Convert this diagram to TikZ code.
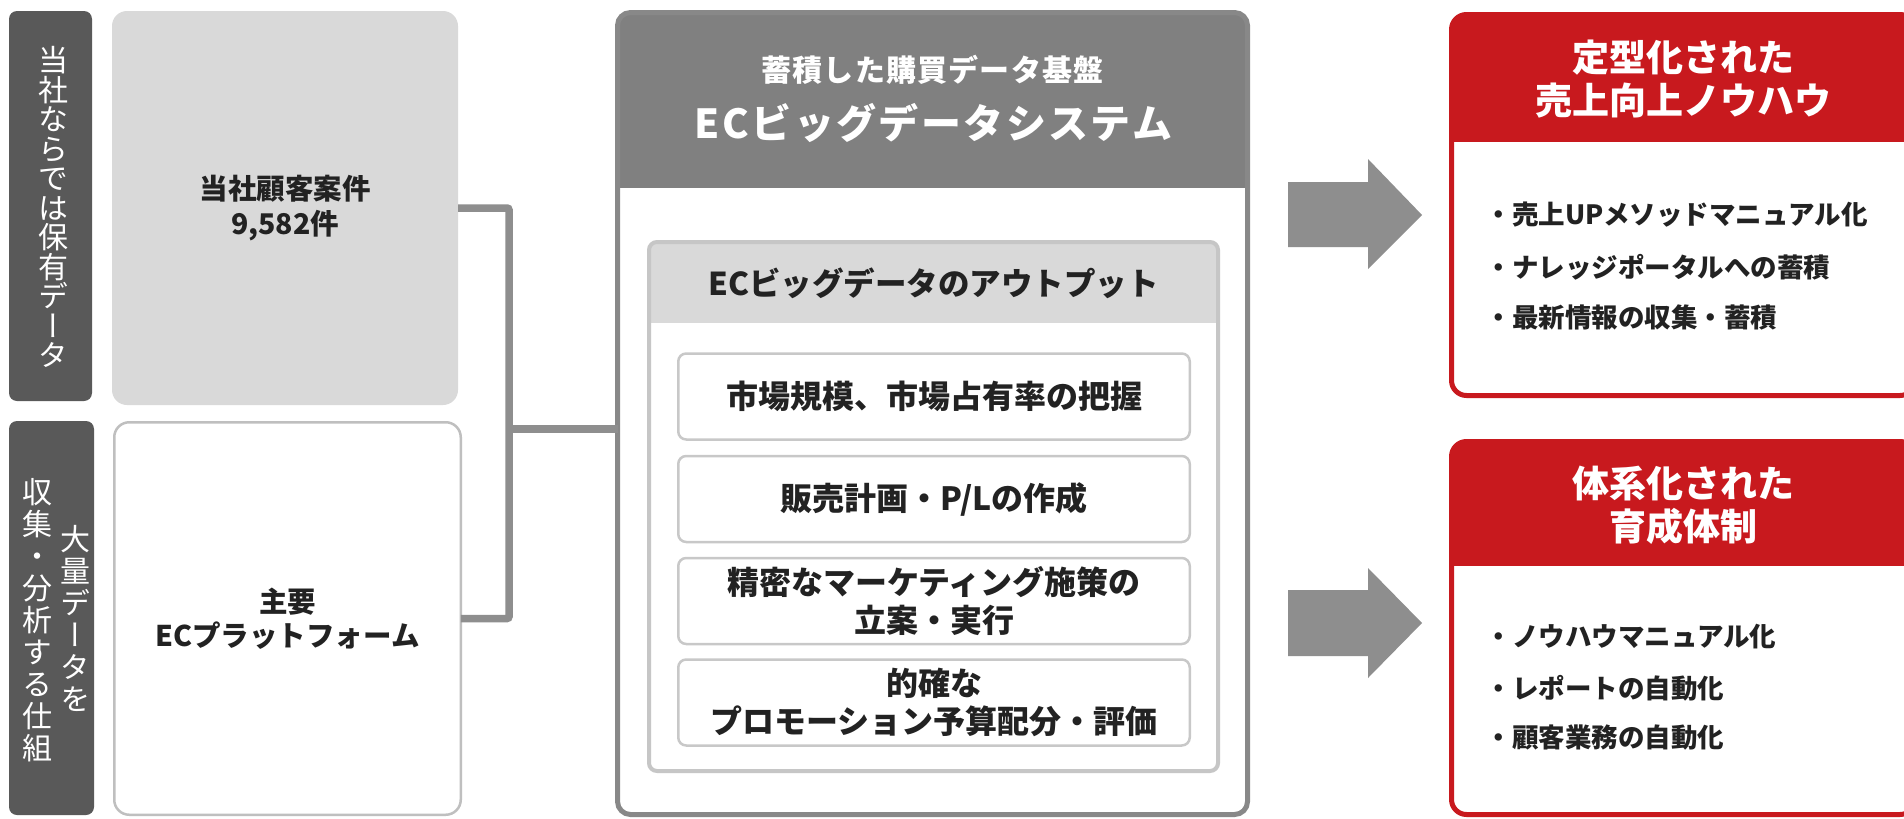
\documentclass[tikz,border=0pt]{standalone}
\usepackage{fontspec}
\setmainfont{Noto Sans CJK JP}
\newfontfamily\jp{Noto Sans CJK JP}
\newfontfamily\jpv{Noto Sans CJK JP}[RawFeature=+vert]
\newfontfamily\jpls{Noto Sans CJK JP}[LetterSpace=6]
\newfontfamily\jplsb{Noto Sans CJK JP}[LetterSpace=4]
\definecolor{darkc}{HTML}{595959}
\definecolor{greyc}{HTML}{D9D9D9}
\definecolor{hdrc}{HTML}{808080}
\definecolor{mainb}{HTML}{888888}
\definecolor{connc}{HTML}{8E8E8E}
\definecolor{innerb}{HTML}{C6C6C6}
\definecolor{itemb}{HTML}{C8C8C8}
\definecolor{wborder}{HTML}{BFBFBF}
\definecolor{redc}{HTML}{C8191E}
\definecolor{textc}{HTML}{222222}
\tikzset{
  box/.style={rectangle, inner sep=0pt, outer sep=0pt},
  darklab/.style={box, fill=darkc, rounded corners=8pt},
  greybox/.style={box, fill=greyc, rounded corners=15pt, text=textc, align=center,
    font=\jp\bfseries\fontsize{28.5}{35}\selectfont},
  whitebox/.style={box, draw=wborder, line width=2.5pt, fill=white, rounded corners=15pt,
    text=textc, align=center, font=\jp\bfseries\fontsize{28.5}{34}\selectfont},
  panel/.style={box, fill=white},
  itembox/.style={box, draw=itemb, line width=2.5pt, fill=white, rounded corners=8pt,
    minimum width=511.5pt, minimum height=86pt, text=textc, align=center,
    font=\jp\bfseries\fontsize{32}{38.5}\selectfont},
  vtxt/.style={text=white, align=center},
  conn/.style={draw=connc, line width=7.5pt, rounded corners=2pt},
  blockarrow/.style={fill=connc},
  redhdr/.style={text=white, align=center, font=\jp\bfseries\fontsize{37}{43}\selectfont},
  bullet/.style={anchor=west, text=textc, font=\jp\bfseries\fontsize{26.5}{30}\selectfont},
}
\begin{document}
\begin{tikzpicture}[x=1pt,y=-1pt]
\clip (0,0) rectangle (1904,819);
\fill[white] (0,0) rectangle (1904,819);

% left labels
\node[darklab, minimum width=83pt, minimum height=390pt] (lab1) at (50.5,206) {};
\node[vtxt, font=\jpv\fontsize{30}{29.5}\selectfont] (lab1t) at (53,207)
  {当\\社\\な\\ら\\で\\は\\保\\有\\デ\\ー\\タ};
\node[darklab, minimum width=85pt, minimum height=394pt] (lab2) at (51.5,618) {};
\node[vtxt, font=\jpv\fontsize{30}{32}\selectfont] (lab2a) at (75,618)
  {大\\量\\デ\\ー\\タ\\を};
\node[vtxt, font=\jpv\fontsize{30}{32}\selectfont] (lab2b) at (37,620)
  {収\\集\\・\\分\\析\\す\\る\\仕\\組};

% source boxes
\node[greybox, minimum width=346pt, minimum height=394pt] (grey1) at (285,208)
  {当社顧客案件\\9,582件};
\node[whitebox, minimum width=346.5pt, minimum height=392.5pt] (white2) at (287.5,618.5)
  {主要\\ECプラットフォーム};

% main system box
\node[panel, minimum width=630pt, minimum height=802pt] (sys) at (932.5,413.5) {};
\begin{scope}
  \clip[rounded corners=13pt] (sys.north west) rectangle (sys.south east);
  \fill[hdrc] (sys.north west) rectangle (sys.east |- 0,188);
\end{scope}
\draw[mainb, line width=5pt, rounded corners=13pt] (sys.north west) rectangle (sys.south east);
\node[text=white, font=\jplsb\bfseries\fontsize{30}{36}\selectfont] (sysh1) at (932.5,70) {蓄積した購買データ基盤};
\node[text=white, font=\jpls\bfseries\fontsize{40}{46}\selectfont] (sysh2) at (933.5,123) {ECビッグデータシステム};

% output box
\node[panel, minimum width=569pt, minimum height=529pt] (out) at (933.5,506.5) {};
\begin{scope}
  \clip[rounded corners=8pt] (out.north west) rectangle (out.south east);
  \fill[greyc] (out.north west) rectangle (out.east |- 0,323);
\end{scope}
\draw[innerb, line width=4pt, rounded corners=8pt] (out.north west) rectangle (out.south east);
\node[text=textc, font=\jp\bfseries\fontsize{31.5}{36}\selectfont] (outh) at (933.5,283) {ECビッグデータのアウトプット};

\node[itembox] (it1) at (934,396.5) {市場規模、市場占有率の把握};
\node[itembox] (it2) at (934,499) {販売計画・P/Lの作成};
\node[itembox] (it3) at (934,601) {精密なマーケティング施策の\\立案・実行};
\node[itembox] (it4) at (934,702.5) {的確な\\プロモーション予算配分・評価};

% connectors
\coordinate (j) at (509,429);
\draw[conn] (grey1.east) -| (j) |- (white2.east);
\draw[conn] (j) -- (sys.west |- j);

% block arrows
\fill[blockarrow] (1288,182) -- (1368,182) -- (1368,159) -- (1422,215) -- (1368,269) -- (1368,247) -- (1288,247) -- cycle;
\fill[blockarrow] (1288,590) -- (1368,590) -- (1368,568) -- (1422,623) -- (1368,678) -- (1368,656) -- (1288,656) -- cycle;

% result box 1
\node[panel, minimum width=463.5pt, minimum height=381pt] (res1) at (1683.25,205) {};
\begin{scope}
  \clip[rounded corners=15pt] (res1.north west) rectangle (res1.south east);
  \fill[redc] (res1.north west) rectangle (res1.east |- 0,142);
\end{scope}
\draw[redc, line width=5pt, rounded corners=15pt] (res1.north west) rectangle (res1.south east);
\node[redhdr] (res1h) at (1683,79) {定型化された\\売上向上ノウハウ};
\node[bullet] (b11) at (1482,215) {・売上UPメソッドマニュアル化};
\node[bullet] (b12) at (1482,267) {・ナレッジポータルへの蓄積};
\node[bullet] (b13) at (1482,317) {・最新情報の収集・蓄積};

% result box 2
\node[panel, minimum width=463.5pt, minimum height=373pt] (res2) at (1683.25,628) {};
\begin{scope}
  \clip[rounded corners=15pt] (res2.north west) rectangle (res2.south east);
  \fill[redc] (res2.north west) rectangle (res2.east |- 0,566);
\end{scope}
\draw[redc, line width=5pt, rounded corners=15pt] (res2.north west) rectangle (res2.south east);
\node[redhdr] (res2h) at (1683,505) {体系化された\\育成体制};
\node[bullet] (b21) at (1482,637) {・ノウハウマニュアル化};
\node[bullet] (b22) at (1482,688) {・レポートの自動化};
\node[bullet] (b23) at (1482,738) {・顧客業務の自動化};
\end{tikzpicture}
\end{document}
